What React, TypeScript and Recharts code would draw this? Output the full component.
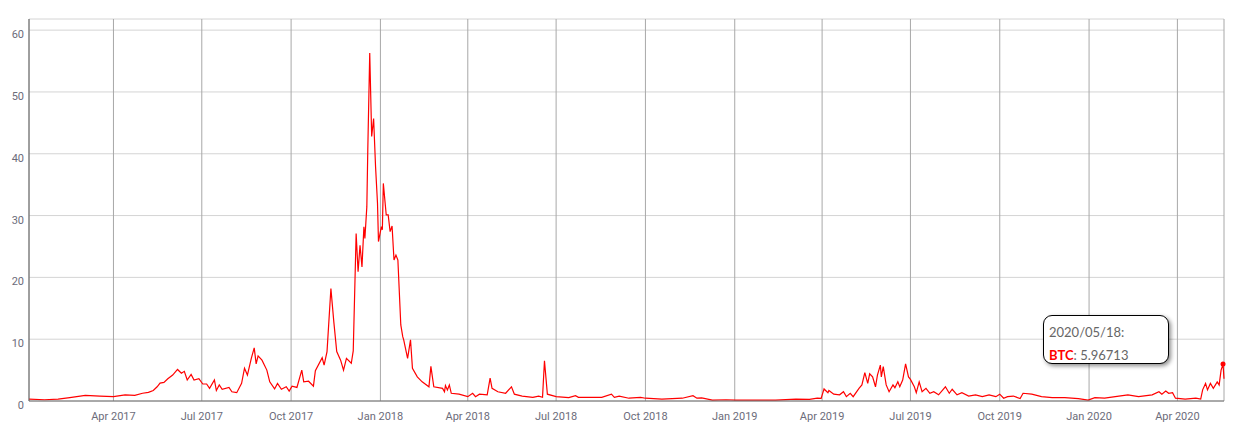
import React from "react";
import { LineChart, Line, XAxis, YAxis, CartesianGrid } from "recharts";

const dates = [
  "2017-01-04", "2017-01-20", "2017-02-03", "2017-02-15", "2017-03-03", "2017-03-18", "2017-04-01", "2017-04-13",
  "2017-04-23", "2017-05-01", "2017-05-07", "2017-05-12", "2017-05-16", "2017-05-19", "2017-05-23", "2017-05-27",
  "2017-06-01", "2017-06-06", "2017-06-10", "2017-06-13", "2017-06-16", "2017-06-20", "2017-06-23", "2017-06-28",
  "2017-07-02", "2017-07-06", "2017-07-09", "2017-07-14", "2017-07-16", "2017-07-19", "2017-07-22", "2017-07-29",
  "2017-08-01", "2017-08-06", "2017-08-11", "2017-08-14", "2017-08-17", "2017-08-21", "2017-08-24", "2017-08-26",
  "2017-08-28", "2017-09-01", "2017-09-06", "2017-09-09", "2017-09-14", "2017-09-17", "2017-09-21", "2017-09-26",
  "2017-09-29", "2017-10-02", "2017-10-07", "2017-10-12", "2017-10-14", "2017-10-19", "2017-10-24", "2017-10-26",
  "2017-11-02", "2017-11-04", "2017-11-07", "2017-11-11", "2017-11-14", "2017-11-17", "2017-11-21", "2017-11-24",
  "2017-11-27", "2017-12-02", "2017-12-04", "2017-12-07", "2017-12-09", "2017-12-11", "2017-12-13", "2017-12-15",
  "2017-12-16", "2017-12-18", "2017-12-19", "2017-12-21", "2017-12-23", "2017-12-25", "2017-12-27", "2017-12-29",
  "2017-12-30", "2018-01-02", "2018-01-03", "2018-01-04", "2018-01-07", "2018-01-09", "2018-01-11", "2018-01-13",
  "2018-01-15", "2018-01-17", "2018-01-19", "2018-01-22", "2018-01-24", "2018-01-25", "2018-01-29", "2018-02-01",
  "2018-02-03", "2018-02-08", "2018-02-13", "2018-02-20", "2018-02-22", "2018-02-25", "2018-03-06", "2018-03-08",
  "2018-03-09", "2018-03-11", "2018-03-13", "2018-03-15", "2018-03-23", "2018-04-01", "2018-04-06", "2018-04-09",
  "2018-04-13", "2018-04-21", "2018-04-24", "2018-04-26", "2018-05-02", "2018-05-10", "2018-05-16", "2018-05-19",
  "2018-05-27", "2018-06-07", "2018-06-13", "2018-06-17", "2018-06-19", "2018-06-22", "2018-07-01", "2018-07-14",
  "2018-07-21", "2018-07-24", "2018-08-04", "2018-08-17", "2018-08-27", "2018-08-30", "2018-09-04", "2018-09-14",
  "2018-09-26", "2018-10-01", "2018-10-18", "2018-11-08", "2018-11-19", "2018-11-23", "2018-11-28", "2018-12-09",
  "2018-12-23", "2019-01-02", "2019-01-23", "2019-02-12", "2019-03-05", "2019-03-19", "2019-03-27", "2019-03-31",
  "2019-04-03", "2019-04-07", "2019-04-08", "2019-04-13", "2019-04-19", "2019-04-23", "2019-04-26", "2019-04-30",
  "2019-05-03", "2019-05-09", "2019-05-12", "2019-05-15", "2019-05-18", "2019-05-20", "2019-05-23", "2019-05-26",
  "2019-05-28", "2019-05-31", "2019-06-01", "2019-06-03", "2019-06-06", "2019-06-09", "2019-06-13", "2019-06-15",
  "2019-06-18", "2019-06-20", "2019-06-23", "2019-06-26", "2019-06-29", "2019-07-01", "2019-07-05", "2019-07-07",
  "2019-07-10", "2019-07-13", "2019-07-17", "2019-07-21", "2019-07-25", "2019-07-30", "2019-08-06", "2019-08-10",
  "2019-08-13", "2019-08-18", "2019-08-23", "2019-08-30", "2019-09-06", "2019-09-13", "2019-09-20", "2019-09-27",
  "2019-10-01", "2019-10-05", "2019-10-09", "2019-10-15", "2019-10-22", "2019-10-25", "2019-11-03", "2019-11-13",
  "2019-11-24", "2019-12-07", "2019-12-21", "2019-12-31", "2020-01-07", "2020-01-17", "2020-01-28", "2020-02-10",
  "2020-02-21", "2020-03-06", "2020-03-13", "2020-03-16", "2020-03-20", "2020-03-23", "2020-03-27", "2020-03-30",
  "2020-04-09", "2020-04-20", "2020-04-25", "2020-04-27", "2020-04-30", "2020-05-02", "2020-05-05", "2020-05-08",
  "2020-05-12", "2020-05-14", "2020-05-16", "2020-05-18", "2020-05-19",
];

const btc = [
  0.3, 0.2, 0.3, 0.55, 0.9, 0.8, 0.7, 1.0,
  0.9, 1.25, 1.4, 1.7, 2.3, 2.9, 3.0, 3.6,
  4.2, 5.1, 4.5, 4.8, 3.4, 4.3, 3.4, 3.6,
  2.75, 2.75, 2.05, 3.4, 1.7, 2.6, 1.9, 2.2,
  1.5, 1.35, 2.85, 5.3, 4.2, 6.9, 8.6, 6.0,
  7.3, 6.6, 5.0, 3.1, 1.95, 2.85, 1.9, 2.3,
  1.6, 2.4, 2.2, 5.0, 3.1, 3.2, 2.4, 4.9,
  7.0, 5.8, 8.0, 18.2, 12.8, 8.0, 6.6, 5.0,
  6.9, 6.1, 8.1, 27.1, 20.9, 25.2, 21.7, 28.2,
  26.3, 31.4, 40.6, 56.3, 42.8, 45.7, 37.9, 32.0,
  25.8, 28.2, 27.7, 35.2, 30.1, 30.1, 27.4, 28.3,
  22.8, 23.6, 22.8, 12.3, 10.4, 9.9, 6.9, 9.9,
  5.3, 3.9, 3.1, 2.3, 5.6, 2.3, 2.05, 1.5,
  2.5, 1.8, 2.6, 1.25, 1.1, 0.7, 1.25, 0.7,
  1.1, 1.0, 3.7, 2.05, 1.5, 1.25, 2.3, 1.1,
  0.8, 0.6, 0.8, 0.6, 6.5, 1.1, 0.7, 0.55,
  0.85, 0.6, 0.6, 0.6, 1.1, 0.6, 0.8, 0.45,
  0.6, 0.45, 0.3, 0.45, 0.85, 0.45, 0.5, 0.15,
  0.2, 0.15, 0.15, 0.15, 0.3, 0.25, 0.45, 0.43,
  1.95, 1.35, 1.7, 1.1, 1.0, 1.5, 0.7, 1.25,
  0.7, 2.05, 2.6, 4.6, 2.85, 4.4, 3.9, 2.3,
  4.2, 5.8, 3.9, 5.55, 2.6, 1.5, 2.6, 2.15,
  3.1, 2.3, 3.4, 6.0, 3.9, 3.5, 2.3, 1.35,
  3.1, 1.5, 2.05, 1.25, 1.5, 1.0, 2.3, 1.25,
  1.9, 1.0, 1.35, 0.8, 1.0, 0.7, 1.0, 0.7,
  1.1, 0.45, 0.7, 0.8, 0.4, 1.25, 1.1, 0.7,
  0.55, 0.55, 0.37, 0.15, 0.55, 0.45, 0.7, 1.0,
  0.7, 1.0, 1.5, 1.1, 1.6, 1.25, 1.35, 0.45,
  0.3, 0.45, 0.3, 1.8, 2.85, 1.8, 2.85, 2.05,
  3.1, 2.6, 5.0, 5.96713, 3.6,
];

const xTickDates = [
  "2017-04-01", "2017-07-01", "2017-10-01", "2018-01-01", "2018-04-01", "2018-07-01", "2018-10-01",
  "2019-01-01", "2019-04-01", "2019-07-01", "2019-10-01", "2020-01-01", "2020-04-01",
];
const xTickLabels = [
  "Apr 2017", "Jul 2017", "Oct 2017", "Jan 2018", "Apr 2018", "Jul 2018", "Oct 2018",
  "Jan 2019", "Apr 2019", "Jul 2019", "Oct 2019", "Jan 2020", "Apr 2020",
];
const yTicks = [0, 10, 20, 30, 40, 50, 60];

const hoverDate = "2020-05-18";

const data = dates.map((d, i) => ({ t: Date.parse(d), btc: btc[i] }));
const xTicks = xTickDates.map((d) => Date.parse(d));
const hoverIndex = dates.indexOf(hoverDate);

const axisText = { fontFamily: "Roboto, sans-serif", fontSize: 11, fill: "#6c6c7a" };

const XTick = (props: any) => {
  const { x, y, payload } = props;
  const idx = xTicks.indexOf(payload.value);
  return (
    <text x={x} y={y + 11} textAnchor="middle" {...axisText}>
      {xTickLabels[idx]}
    </text>
  );
};

const YTick = (props: any) => {
  const { x, y, payload } = props;
  return (
    <text x={x + 3} y={y + 8} textAnchor="end" {...axisText}>
      {payload.value}
    </text>
  );
};

export default function App() {
  return (
    <div style={{ position: "absolute", left: 0, top: 0, width: 1243, height: 425, background: "#fff" }}>
      <LineChart width={1243} height={425} data={data} margin={{ top: 19, right: 19, bottom: 0, left: 0 }}>
        <CartesianGrid vertical={false} stroke="#d4d4d4" />
        <CartesianGrid horizontal={false} stroke="#a8a8a8" />
        <XAxis
          dataKey="t"
          type="number"
          domain={[data[0].t, data[data.length - 1].t]}
          ticks={xTicks}
          tick={<XTick />}
          tickLine={false}
          axisLine={{ stroke: "#6a6a6a" }}
          height={24}
          interval={0}
        />
        <YAxis
          domain={[0, 61.8]}
          ticks={yTicks}
          tick={<YTick />}
          tickLine={false}
          axisLine={{ stroke: "#6a6a6a" }}
          width={29}
          interval={0}
        />
        <Line
          type="linear"
          dataKey="btc"
          stroke="#ff0000"
          strokeWidth={1.2}
          isAnimationActive={false}
          dot={(p: any) =>
            p.index === hoverIndex ? (
              <circle key={p.key} cx={p.cx} cy={p.cy} r={2.5} fill="#ff0000" />
            ) : (
              <g key={p.key} />
            )
          }
          activeDot={false}
        />
      </LineChart>
      <div
        style={{
          position: "absolute",
          left: 1043,
          top: 315,
          width: 126,
          height: 49,
          border: "1px solid #000",
          borderRadius: 9,
          boxShadow: "2px 2px 4px rgba(0,0,0,0.45)",
          background: "#fff",
          fontFamily: "Lato, sans-serif",
          fontSize: 13,
          color: "#666",
          padding: "5px 0 0 5px",
          boxSizing: "border-box",
          lineHeight: "23px",
        }}
      >
        <div>2020/05/18:</div>
        <div>
          <span style={{ color: "#ff0000", fontWeight: "bold" }}>BTC</span>: 5.96713
        </div>
      </div>
    </div>
  );
}
